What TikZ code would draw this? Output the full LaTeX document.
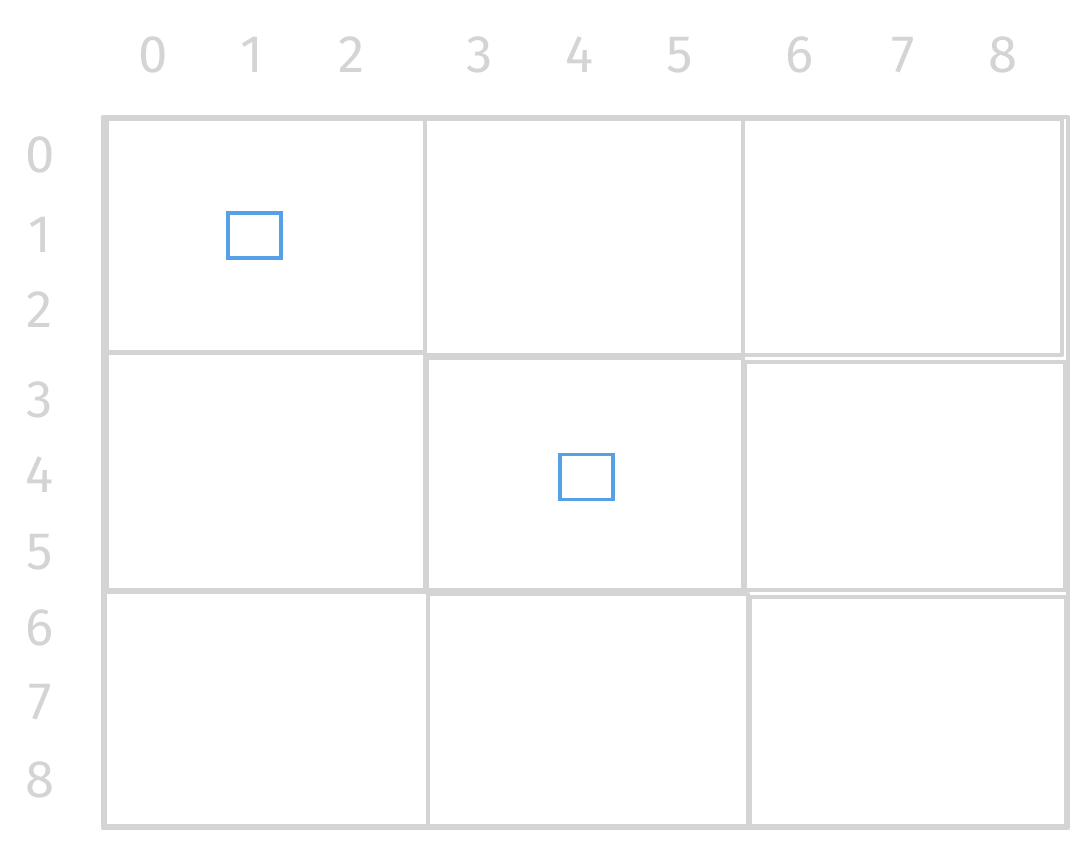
\documentclass[tikz,border=0pt]{standalone}
\usepackage{fontspec}
\setsansfont{Fira Sans}
\usepackage{tikz}
\definecolor{gridgray}{HTML}{D4D4D4}
\definecolor{markblue}{HTML}{55A0E6}
\tikzset{
  cell/.style={draw=gridgray, line width=2.6pt, line join=round},
  idx/.style={text=gridgray, font=\sffamily\fontsize{30}{30}\selectfont},
  markbox/.style={draw=markblue, line width=2.1pt, minimum width=1.06cm, minimum height=0.9cm, inner sep=0pt}
}
\begin{document}
\begin{tikzpicture}[x=0.02cm, y=-0.02cm]
\useasboundingbox (0,0) rectangle (1087,847);

% outer frame
\draw[cell] (103,117) rectangle (1068,828);

% the nine blocks
\draw[cell] (107,119) rectangle (425,352);
\draw[cell] (425,119) rectangle (743,355);
\draw[cell] (743,119) rectangle (1062,355);
\draw[cell] (107,353) rectangle (425,590);
\draw[cell] (427,358) rectangle (743,590);
\draw[cell] (745,362) rectangle (1065,590);
\draw[cell] (105,592) rectangle (428,826);
\draw[cell] (428,594) rectangle (748,826);
\draw[cell] (750,597) rectangle (1066,826);

% column indices
\foreach \i/\x in {0/153, 1/252, 2/352, 3/480, 4/580, 5/680, 6/800, 7/903, 8/1003}
  \node[idx] (col\i) at (\x,55) {\i};

% row indices
\foreach \i/\y in {0/155, 1/235, 2/310, 3/400, 4/475, 5/552, 6/628, 7/702, 8/780}
  \node[idx] (row\i) at (40,\y) {\i};

% marked cells
\node[markbox] (markA) at (254.5,235.5) {};
\node[markbox] (markB) at (586.5,477) {};
\end{tikzpicture}
\end{document}
